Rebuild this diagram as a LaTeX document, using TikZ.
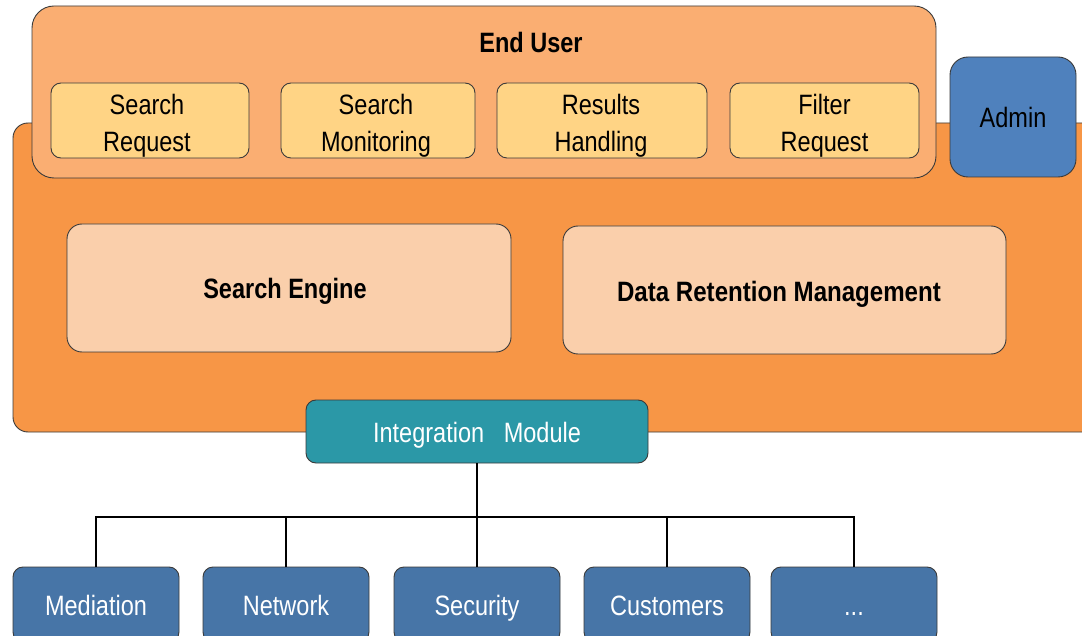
\documentclass[tikz,border=0pt]{standalone}
\usepackage{fontspec}
\setmainfont{Liberation Sans}[FakeStretch=0.84]
\definecolor{mainor}{HTML}{F79646}
\definecolor{euor}{HTML}{FAAE72}
\definecolor{yel}{HTML}{FFD485}
\definecolor{peach}{HTML}{FACFAB}
\definecolor{adm}{HTML}{4F81BD}
\definecolor{bot}{HTML}{4775A7}
\definecolor{teal}{HTML}{2B98A7}
\definecolor{edge}{HTML}{3A3A3A}
\tikzset{
  box/.style={draw=edge, line width=0.9pt, inner sep=0pt, outer sep=0pt, align=center,
    font=\fontsize{28}{37}\selectfont, text=black, text height=22pt, text depth=0pt},
  smallbox/.style={box, fill=yel, rounded corners=10pt, minimum height=75pt},
  lbl/.style={inner sep=0pt, align=center, font=\fontsize{28}{37}\selectfont},
  bigbox/.style={box, fill=peach, rounded corners=15pt, minimum height=128pt, font=\fontsize{28}{37}\selectfont\bfseries},
  leaf/.style={box, fill=bot, rounded corners=10pt, minimum width=166pt, minimum height=75pt, text=white},
  conn/.style={draw=black, line width=2.5pt},
}
\begin{document}
\begin{tikzpicture}[x=1pt,y=-1pt]
\useasboundingbox (0,0) rectangle (1082,636);
% main container
\node[box, fill=mainor, rounded corners=15pt, minimum width=1087pt, minimum height=309pt] (main) at (556.5,277.5) {};
% End user
\node[box, fill=euor, rounded corners=22pt, minimum width=904pt, minimum height=172pt] (eu) at (484,92) {};
\node[lbl, font=\fontsize{28}{37}\selectfont\bfseries] (eut) at (531,42) {End User};
% Admin
\node[box, fill=adm, rounded corners=18pt, minimum width=126pt, minimum height=120pt] (admin) at (1013,117) {Admin};
% inner small boxes
\node[smallbox, minimum width=198pt] (sr) at (150,120.5) {};
\node[smallbox, minimum width=194pt] (sm) at (378,120.5) {};
\node[smallbox, minimum width=210pt] (rh) at (602,120.5) {};
\node[smallbox, minimum width=189pt] (fr) at (824.5,120.5) {};
\node[lbl] (srt) at ([xshift=-3pt,yshift=-5pt]sr.center) {Search\\Request};
\node[lbl] (smt) at ([xshift=-2pt,yshift=-5pt]sm.center) {Search\\Monitoring};
\node[lbl] (rht) at ([xshift=-1pt,yshift=-5pt]rh.center) {Results\\Handling};
\node[lbl] (frt) at ([yshift=-5pt]fr.center) {Filter\\Request};
% big boxes
\node[bigbox, minimum width=444pt] (se) at (289,288) {};
\node[bigbox, minimum width=443pt] (drm) at (784.5,290) {};
\node[lbl, font=\fontsize{28}{37}\selectfont\bfseries, text height=22pt, text depth=0pt] (set) at (285,288) {Search Engine};
\node[lbl, font=\fontsize{28}{37}\selectfont\bfseries, text height=22pt, text depth=0pt] (drmt) at (779,291) {\addfontfeature{FakeStretch=0.86}Data Retention Management};
% Integration module
\node[box, fill=teal, rounded corners=10pt, minimum width=342pt, minimum height=63pt, text=white] (im) at (477,431.5) {Integration\ \ \ Module};
% leaves
\node[leaf] (med) at (96,604.5) {Mediation};
\node[leaf] (net) at (286,604.5) {Network};
\node[leaf] (sec) at (477,604.5) {Security};
\node[leaf] (cus) at (667,604.5) {Customers};
\node[leaf] (etc) at (854,604.5) {...};
% connectors
\coordinate (bus) at (477,517);
\draw[conn] (im.south) -- (bus);
\draw[conn] (med.north) |- (bus);
\draw[conn] (etc.north) |- (bus);
\draw[conn] (net.north) -- (net.north |- bus);
\draw[conn] (sec.north) -- (bus);
\draw[conn] (cus.north) -- (cus.north |- bus);
\end{tikzpicture}
\end{document}
